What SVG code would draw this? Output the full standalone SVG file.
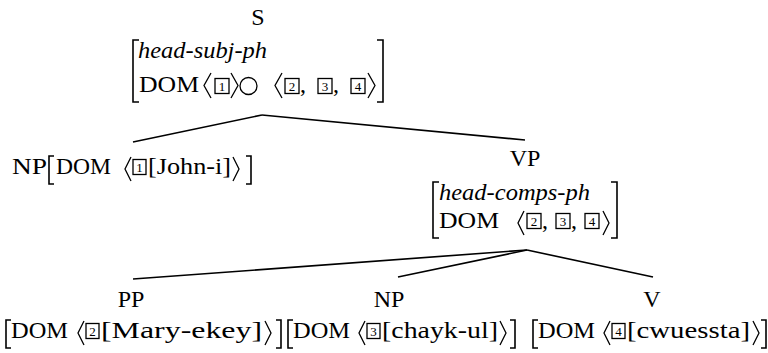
<svg xmlns="http://www.w3.org/2000/svg" width="768" height="353" viewBox="0 0 768 353">
<style>
text{font-family:"Liberation Serif","Times New Roman",serif;font-size:24px;fill:#000}
.it{font-style:italic}
.mid{text-anchor:middle}
.d{font-size:13px;text-anchor:middle}
.br{fill:none;stroke:#000;stroke-width:1.6}
.ab{fill:none;stroke:#000;stroke-width:1.3;stroke-linejoin:miter}
.bx{fill:none;stroke:#000;stroke-width:1.3}
.ln{stroke:#000;stroke-width:1.6;fill:none}
</style>
<rect width="768" height="353" fill="#fff"/>
<g id="connectors">
<line class="ln" x1="262" y1="115" x2="133" y2="142"/>
<line class="ln" x1="262" y1="115" x2="525" y2="140"/>
<line class="ln" x1="527" y1="250" x2="133" y2="279"/>
<line class="ln" x1="527" y1="250" x2="398" y2="277"/>
<line class="ln" x1="527" y1="250" x2="653" y2="277"/>
</g>
<g id="node-S">
<text class="mid" x="258" y="25">S</text>
<path class="br" d="M139,40 H133 V102 H139"/>
<path class="br" d="M377,40 H383 V102 H377"/>
<text class="it" x="138" y="58" textLength="129" lengthAdjust="spacingAndGlyphs">head-subj-ph</text>
<text x="139" y="92" textLength="60" lengthAdjust="spacingAndGlyphs">DOM</text>
<polyline class="ab" points="211,73 204,85.5 211,98"/>
<rect class="bx" x="215" y="78.5" width="14" height="15"/><text class="d" x="222" y="90.5">1</text>
<polyline class="ab" points="231,73 238,85.5 231,98"/>
<circle cx="248.5" cy="86" r="8.5" fill="none" stroke="#000" stroke-width="1.3"/>
<polyline class="ab" points="282,73 275,85.5 282,98"/>
<rect class="bx" x="285" y="78.5" width="14" height="15"/><text class="d" x="292" y="90.5">2</text>
<text x="300" y="92">,</text>
<rect class="bx" x="318" y="78.5" width="14" height="15"/><text class="d" x="325" y="90.5">3</text>
<text x="333" y="92">,</text>
<rect class="bx" x="351" y="78.5" width="14" height="15"/><text class="d" x="358" y="90.5">4</text>
<polyline class="ab" points="368,73 375,85.5 368,98"/>
</g>
<g id="node-NP1">
<text x="12" y="174" textLength="35" lengthAdjust="spacingAndGlyphs">NP</text>
<path class="br" d="M54,156 H49 V184 H54"/>
<text x="56" y="174" textLength="55" lengthAdjust="spacingAndGlyphs">DOM</text>
<polyline class="ab" points="131,157 125,169 131,181"/>
<rect class="bx" x="133" y="159.5" width="13" height="15"/><text class="d" x="139.5" y="171.5">1</text>
<text x="148" y="174" textLength="83" lengthAdjust="spacingAndGlyphs">[John-i]</text>
<polyline class="ab" points="233,157 239,169 233,181"/>
<path class="br" d="M246,156 H251 V184 H246"/>
</g>
<g id="node-VP">
<text class="mid" x="525" y="166">VP</text>
<path class="br" d="M439,182 H433 V238 H439"/>
<path class="br" d="M611,182 H617 V238 H611"/>
<text class="it" x="439" y="200" textLength="151" lengthAdjust="spacingAndGlyphs">head-comps-ph</text>
<text x="439" y="228" textLength="60" lengthAdjust="spacingAndGlyphs">DOM</text>
<polyline class="ab" points="524,211 518,223 524,235"/>
<rect class="bx" x="527" y="213.5" width="14" height="15"/><text class="d" x="534" y="225.5">2</text>
<text x="542" y="228">,</text>
<rect class="bx" x="556" y="213.5" width="14" height="15"/><text class="d" x="563" y="225.5">3</text>
<text x="571" y="228">,</text>
<rect class="bx" x="585" y="213.5" width="14" height="15"/><text class="d" x="592" y="225.5">4</text>
<polyline class="ab" points="603,211 609,223 603,235"/>
</g>
<g id="node-PP">
<text class="mid" x="131" y="307">PP</text>
<path class="br" d="M11,320 H6 V348 H11"/>
<text x="11" y="338" textLength="57" lengthAdjust="spacingAndGlyphs">DOM</text>
<polyline class="ab" points="84,321 78,333 84,345"/>
<rect class="bx" x="86" y="323.5" width="13" height="15"/><text class="d" x="92.5" y="335.5">2</text>
<text x="101" y="338" textLength="161" lengthAdjust="spacingAndGlyphs">[Mary-ekey]</text>
<polyline class="ab" points="265,321 271,333 265,345"/>
<path class="br" d="M276,320 H281 V348 H276"/>
</g>
<g id="node-NP2">
<text class="mid" x="389" y="307">NP</text>
<path class="br" d="M293,320 H288 V348 H293"/>
<text x="293" y="338" textLength="57" lengthAdjust="spacingAndGlyphs">DOM</text>
<polyline class="ab" points="365,321 359,333 365,345"/>
<rect class="bx" x="367" y="323.5" width="13" height="15"/><text class="d" x="373.5" y="335.5">3</text>
<text x="382" y="338" textLength="116" lengthAdjust="spacingAndGlyphs">[chayk-ul]</text>
<polyline class="ab" points="500,321 506,333 500,345"/>
<path class="br" d="M510,320 H515 V348 H510"/>
</g>
<g id="node-V">
<text class="mid" x="652" y="307">V</text>
<path class="br" d="M538,320 H533 V348 H538"/>
<text x="538" y="338" textLength="57" lengthAdjust="spacingAndGlyphs">DOM</text>
<polyline class="ab" points="610,321 604,333 610,345"/>
<rect class="bx" x="612" y="323.5" width="13" height="15"/><text class="d" x="618.5" y="335.5">4</text>
<text x="627" y="338" textLength="123" lengthAdjust="spacingAndGlyphs">[cwuessta]</text>
<polyline class="ab" points="753,321 759,333 753,345"/>
<path class="br" d="M761,320 H766 V348 H761"/>
</g>
</svg>
